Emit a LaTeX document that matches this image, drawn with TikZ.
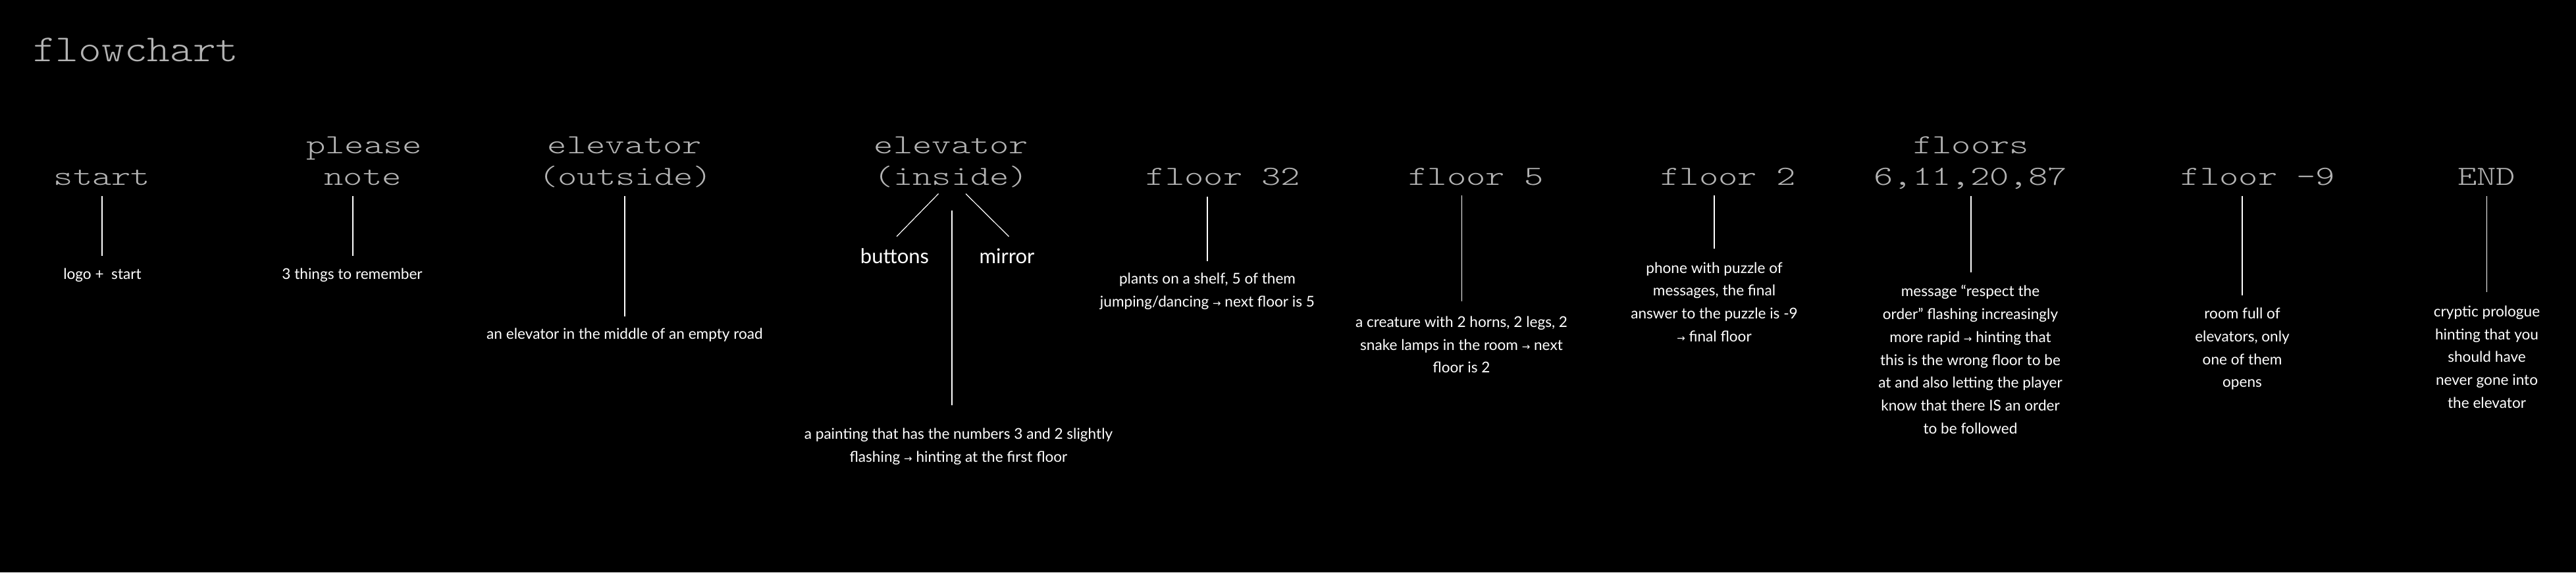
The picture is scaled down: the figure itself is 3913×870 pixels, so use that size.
\documentclass[tikz,border=0pt]{standalone}
\usepackage{fontspec}
\setmainfont{Lato}
\newfontfamily\headfont{Latin Modern Mono Light}[FakeStretch=1.33]
\newfontfamily\titlefont{Latin Modern Mono Light}[FakeStretch=1.14]
\newfontfamily\arrfont{DejaVu Sans}
\newcommand\ra{{\arrfont\fontsize{15}{15}\selectfont →}}
\definecolor{headgray}{HTML}{B4B4B4}
\tikzset{
  head/.style={text=headgray, font=\headfont\fontsize{42}{42}\selectfont, inner sep=0pt, anchor=base},
  body/.style={text=white, font=\fontsize{22.6}{34.7}\selectfont, align=center, inner sep=0pt},
  big/.style={text=white, font=\fontsize{31}{31}\selectfont, inner sep=0pt},
  conn/.style={draw=white, line width=1.2pt},
}
\begin{document}
\begin{tikzpicture}[x=1pt,y=-1pt]
\fill[black] (0,0) rectangle (3913,870);
\useasboundingbox (0,0) rectangle (3913,870);

% title
\node[text=headgray, font=\titlefont\fontsize{58}{58}\selectfont, inner sep=0pt, anchor=base west] (title) at (50,93) {flowchart};

% headings
\node[head] (hstart) at (155,281) {start};
\node[head] (hplease) at (553,233) {please};
\node[head] (hnote) at (551,281) {note};
\node[head] (hout1) at (949,233) {elevator};
\node[head] (hout2) at (950,281) {(outside)};
\node[head] (hin1) at (1445,233) {elevator};
\node[head] (hin2) at (1445,281) {(inside)};
\node[head] (hf32) at (1858,281) {floor 32};
\node[head] (hf5) at (2242,281) {floor 5};
\node[head] (hf2) at (2625,281) {floor 2};
\node[head] (hfs1) at (2994,233) {floors};
\node[head] (hfs2) at (2993,281) {6,11,20,87};
\node[head] (hfm9) at (3430,281) {floor -9};
\node[head] (hend) at (3777,281) {END};

% body texts
\node[body] (bstart) at (155.5,418) {logo +\ \ start};
\node[body] (bnote) at (535,418) {3 things to remember};
\node[body] (bout) at (949,509) {an elevator in the middle of an empty road};
\node[big] (btn) at (1359,389) {buttons};
\node[big] (mir) at (1529.5,389) {mirror};
\node[body] (bin) at (1456,679) {a painting that has the numbers 3 and 2 slightly\\flashing \ra{} hinting at the first floor};
\node[body] (bf32) at (1834,443) {plants on a shelf, 5 of them\\jumping/dancing \ra{} next floor is 5};
\node[body] (bf5) at (2220,524) {a creature with 2 horns, 2 legs, 2\\snake lamps in the room \ra{} next\\floor is 2};
\node[body] (bf2) at (2604,459) {phone with puzzle of\\messages, the final\\answer to the puzzle is -9\\\ra{} final floor};
\node[body] (bfs) at (2993,546.5) {message “respect the\\order” flashing increasingly\\more rapid \ra{} hinting that\\this is the wrong floor to be\\at and also letting the player\\know that there IS an order\\to be followed};
\node[body] (bfm9) at (3406,530.5) {room full of\\elevators, only\\one of them\\opens};
\node[body] (bend) at (3777.5,542.5) {cryptic prologue\\hinting that you\\should have\\never gone into\\the elevator};

% connector end points
\coordinate (c1t) at (155,298);   \coordinate (c1b) at (155,389);
\coordinate (c2t) at (536,298);   \coordinate (c2b) at (536,389);
\coordinate (c3t) at (949,298);   \coordinate (c3b) at (949,481);
\coordinate (c4lt) at (1425.5,294.5); \coordinate (c4lb) at (1362,359.5);
\coordinate (c4rt) at (1467,294.5);   \coordinate (c4rb) at (1532.5,359.5);
\coordinate (c4vt) at (1446,320);  \coordinate (c4vb) at (1446,616);
\coordinate (c5t) at (1834,298.5); \coordinate (c5b) at (1834,397);
\coordinate (c6t) at (2220.5,297); \coordinate (c6b) at (2220.5,457.5);
\coordinate (c7t) at (2604,297);   \coordinate (c7b) at (2604,378);
\coordinate (c8t) at (2994,298);   \coordinate (c8b) at (2994,414);
\coordinate (c9t) at (3406,298);   \coordinate (c9b) at (3406,449);
\coordinate (c10t) at (3777.5,298); \coordinate (c10b) at (3777.5,443.5);

\draw[conn] (c1t) -- (c1b);
\draw[conn] (c2t) -- (c2b);
\draw[conn] (c3t) -- (c3b);
\draw[conn] (c4lt) -- (c4lb);
\draw[conn] (c4rt) -- (c4rb);
\draw[conn] (c4vt) -- (c4vb);
\draw[conn] (c5t) -- (c5b);
\draw[conn] (c6t) -- (c6b);
\draw[conn] (c7t) -- (c7b);
\draw[conn] (c8t) -- (c8b);
\draw[conn] (c9t) -- (c9b);
\draw[conn] (c10t) -- (c10b);
\end{tikzpicture}
\end{document}
